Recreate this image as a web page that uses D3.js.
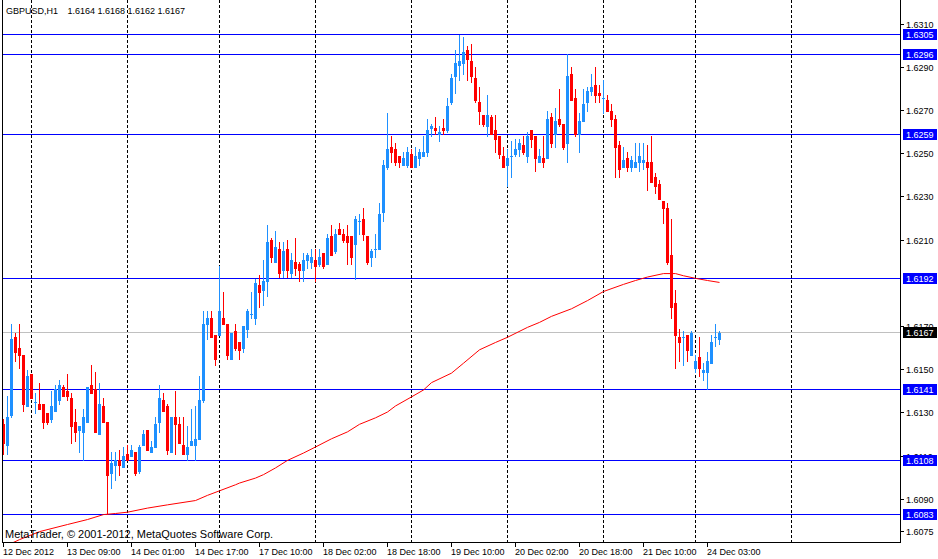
<!DOCTYPE html>
<html>
<head>
<meta charset="utf-8">
<script src="https://cdn.jsdelivr.net/npm/d3@7/dist/d3.min.js"></script>
<style>
  html, body { margin: 0; padding: 0; background: #fff; }
  svg { display: block; }
  text { font-family: "Liberation Sans", Arial, sans-serif; fill: #000; }
</style>
</head>
<body>
<svg id="chart" width="938" height="559"></svg>
<script>
// GBPUSD H1, bars from 12 Dec 17:00 to 24 Dec 06:00
const symbol = "GBPUSD,H1";
const copyright = "MetaTrader, \u00a9 2001-2012, MetaQuotes Software Corp.";

const opens = [
  1.6125,1.6115,1.6129,1.6165,1.6160,1.6157,1.6133,1.6148,1.6135,1.6134,
  1.6134,1.6130,1.6127,1.6131,1.6136,1.6142,1.6140,1.6137,1.6126,1.6122,
  1.6121,1.6126,1.6143,1.6141,1.6120,1.6133,1.6126,1.6102,1.6106,1.6108,
  1.6105,1.6111,1.6110,1.6112,1.6103,1.6115,1.6122,1.6112,1.6114,1.6126,
  1.6136,1.6133,1.6112,1.6128,1.6125,1.6115,1.6111,1.6115,1.6115,1.6118,
  1.6136,1.6171,1.6174,1.6166,1.6166,1.6174,1.6171,1.6155,1.6168,1.6163,
  1.6160,1.6169,1.6176,1.6174,1.6189,1.6187,1.6191,1.6210,1.6200,1.6206,
  1.6196,1.6206,1.6195,1.6200,1.6199,1.6196,1.6201,1.6200,1.6201,1.6199,
  1.6204,1.6199,1.6212,1.6205,1.6215,1.6213,1.6212,1.6212,1.6208,1.6219,
  1.6220,1.6212,1.6202,1.6206,1.6206,1.6223,1.6244,1.6253,1.6252,1.6249,
  1.6245,1.6245,1.6250,1.6244,1.6248,1.6249,1.6251,1.6262,1.6262,1.6259,
  1.6262,1.6261,1.6274,1.6286,1.6291,1.6292,1.6298,1.6293,1.6285,1.6274,
  1.6268,1.6263,1.6267,1.6261,1.6258,1.6249,1.6245,1.6249,1.6250,1.6252,
  1.6254,1.6249,1.6261,1.6258,1.6246,1.6248,1.6248,1.6267,1.6259,1.6266,
  1.6264,1.6255,1.6287,1.6276,1.6259,1.6265,1.6274,1.6279,1.6282,1.6278,
  1.6276,1.6275,1.6270,1.6266,1.6254,1.6244,1.6248,1.6244,1.6244,1.6246,
  1.6246,1.6246,1.6246,1.6239,1.6236,1.6228,1.6225,1.6203,1.6181,1.6165,
  1.6165,1.6166,1.6157,1.6151,1.6156,1.6149,1.6149,1.6153,1.6165,1.6164
];
const highs = [
  1.6127,1.6138,1.6171,1.6167,1.6171,1.6157,1.6150,1.6148,1.6139,1.6144,
  1.6134,1.6130,1.6140,1.6143,1.6145,1.6143,1.6148,1.6139,1.6132,1.6124,
  1.6132,1.6142,1.6152,1.6149,1.6144,1.6137,1.6126,1.6112,1.6112,1.6113,
  1.6114,1.6115,1.6115,1.6112,1.6115,1.6122,1.6122,1.6117,1.6128,1.6143,
  1.6139,1.6134,1.6128,1.6140,1.6128,1.6128,1.6124,1.6132,1.6133,1.6147,
  1.6177,1.6177,1.6177,1.6166,1.6198,1.6186,1.6171,1.6167,1.6171,1.6163,
  1.6170,1.6178,1.6186,1.6192,1.6194,1.6201,1.6217,1.6211,1.6214,1.6209,
  1.6209,1.6210,1.6204,1.6211,1.6200,1.6204,1.6204,1.6206,1.6206,1.6206,
  1.6204,1.6213,1.6217,1.6215,1.6218,1.6215,1.6217,1.6212,1.6221,1.6222,
  1.6225,1.6212,1.6206,1.6213,1.6227,1.6247,1.6269,1.6258,1.6255,1.6249,
  1.6251,1.6253,1.6252,1.6253,1.6252,1.6258,1.6266,1.6264,1.6267,1.6263,
  1.6266,1.6276,1.6287,1.6298,1.6305,1.6304,1.6300,1.6301,1.6290,1.6281,
  1.6268,1.6277,1.6268,1.6268,1.6258,1.6253,1.6252,1.6256,1.6257,1.6257,
  1.6258,1.6260,1.6261,1.6258,1.6252,1.6258,1.6270,1.6269,1.6271,1.6280,
  1.6264,1.6296,1.6290,1.6280,1.6269,1.6280,1.6281,1.6287,1.6290,1.6282,
  1.6284,1.6277,1.6273,1.6268,1.6256,1.6253,1.6251,1.6249,1.6255,1.6255,
  1.6255,1.6254,1.6258,1.6241,1.6238,1.6228,1.6227,1.6220,1.6187,1.6169,
  1.6168,1.6166,1.6168,1.6157,1.6165,1.6153,1.6158,1.6166,1.6171,1.6168
];
const lows = [
  1.6111,1.6111,1.6128,1.6154,1.6151,1.6131,1.6133,1.6137,1.6130,1.6132,
  1.6123,1.6125,1.6126,1.6131,1.6134,1.6138,1.6136,1.6116,1.6117,1.6112,
  1.6108,1.6126,1.6139,1.6121,1.6120,1.6126,1.6083,1.6095,1.6099,1.6101,
  1.6105,1.6108,1.6110,1.6101,1.6102,1.6115,1.6113,1.6112,1.6114,1.6121,
  1.6131,1.6111,1.6112,1.6111,1.6116,1.6111,1.6108,1.6115,1.6108,1.6118,
  1.6135,1.6164,1.6165,1.6152,1.6166,1.6171,1.6155,1.6155,1.6159,1.6155,
  1.6158,1.6165,1.6174,1.6171,1.6179,1.6180,1.6184,1.6200,1.6200,1.6193,
  1.6193,1.6193,1.6193,1.6194,1.6191,1.6191,1.6197,1.6197,1.6191,1.6198,
  1.6197,1.6199,1.6203,1.6204,1.6213,1.6209,1.6199,1.6199,1.6192,1.6213,
  1.6210,1.6199,1.6198,1.6202,1.6206,1.6219,1.6243,1.6246,1.6245,1.6244,
  1.6245,1.6244,1.6244,1.6244,1.6245,1.6249,1.6249,1.6258,1.6259,1.6256,
  1.6259,1.6260,1.6273,1.6278,1.6284,1.6287,1.6284,1.6283,1.6274,1.6264,
  1.6263,1.6258,1.6259,1.6251,1.6248,1.6244,1.6235,1.6239,1.6249,1.6249,
  1.6250,1.6246,1.6253,1.6242,1.6246,1.6244,1.6248,1.6253,1.6253,1.6263,
  1.6252,1.6246,1.6275,1.6258,1.6251,1.6265,1.6270,1.6277,1.6274,1.6274,
  1.6269,1.6270,1.6263,1.6239,1.6239,1.6244,1.6242,1.6242,1.6244,1.6242,
  1.6243,1.6233,1.6237,1.6232,1.6229,1.6218,1.6199,1.6174,1.6151,1.6154,
  1.6152,1.6154,1.6157,1.6149,1.6147,1.6145,1.6141,1.6153,1.6161,1.6162
];
const closes = [
  1.6116,1.6128,1.6164,1.6158,1.6157,1.6134,1.6147,1.6137,1.6135,1.6132,
  1.6126,1.6126,1.6133,1.6141,1.6143,1.6138,1.6138,1.6124,1.6121,1.6124,
  1.6128,1.6142,1.6139,1.6121,1.6134,1.6126,1.6101,1.6107,1.6108,1.6106,
  1.6110,1.6108,1.6113,1.6102,1.6114,1.6120,1.6113,1.6114,1.6125,1.6137,
  1.6131,1.6113,1.6128,1.6125,1.6116,1.6111,1.6114,1.6117,1.6118,1.6136,
  1.6171,1.6174,1.6165,1.6155,1.6177,1.6171,1.6157,1.6167,1.6160,1.6159,
  1.6170,1.6177,1.6176,1.6190,1.6186,1.6191,1.6209,1.6202,1.6207,1.6195,
  1.6205,1.6196,1.6201,1.6197,1.6196,1.6201,1.6203,1.6202,1.6198,1.6202,
  1.6198,1.6211,1.6203,1.6213,1.6213,1.6210,1.6209,1.6202,1.6220,1.6219,
  1.6213,1.6200,1.6205,1.6206,1.6222,1.6245,1.6252,1.6251,1.6246,1.6246,
  1.6248,1.6251,1.6244,1.6249,1.6251,1.6251,1.6261,1.6263,1.6261,1.6260,
  1.6261,1.6272,1.6285,1.6292,1.6293,1.6297,1.6294,1.6286,1.6275,1.6270,
  1.6264,1.6268,1.6259,1.6257,1.6250,1.6244,1.6248,1.6249,1.6252,1.6255,
  1.6251,1.6258,1.6257,1.6248,1.6249,1.6246,1.6266,1.6255,1.6265,1.6264,
  1.6253,1.6286,1.6275,1.6259,1.6265,1.6273,1.6279,1.6281,1.6277,1.6277,
  1.6276,1.6270,1.6266,1.6253,1.6243,1.6247,1.6244,1.6247,1.6246,1.6249,
  1.6247,1.6244,1.6237,1.6235,1.6229,1.6225,1.6200,1.6179,1.6166,1.6163,
  1.6165,1.6159,1.6167,1.6154,1.6151,1.6150,1.6154,1.6163,1.6165,1.6167
];

// moving average read at these bars
const maBars = [2,4,9,16,21,25,28,31,36,41,48,51,54,58,59,63,65,68,71,75,78,82,86,89,93,96,98,
  102,105,107,112,115,119,123,126,131,134,137,142,146,150,155,158,161,165,168,170,173,176,179];
const maValues = [1.60696,1.60713,1.60750,1.60783,1.60806,1.60829,1.60834,1.60840,1.60859,1.60874,
  1.60894,1.60918,1.60939,1.60967,1.60975,1.60998,1.61014,1.61045,1.61080,1.61114,1.61142,1.61180,
  1.61212,1.61247,1.61277,1.61304,1.61332,1.61374,1.61406,1.61440,1.61484,1.61530,1.61592,1.61626,
  1.61650,1.61696,1.61719,1.61747,1.61782,1.61820,1.61862,1.61895,1.61913,1.61929,1.61945,1.61945,
  1.61935,1.61923,1.61913,1.61904];

const levels = [1.6305, 1.6296, 1.6259, 1.6192, 1.6141, 1.6108, 1.6083];
const lastPrice = 1.6167;

const priceTicks = [1.6310, 1.6290, 1.6270, 1.6250, 1.6230, 1.6210, 1.6170,
  1.6150, 1.6130, 1.6110, 1.6090, 1.6075];

const timeTickBars = [0, 16, 32, 48, 64, 80, 96, 112, 128, 144, 160, 176];
const timeLabels = ["12 Dec 2012", "13 Dec 09:00", "14 Dec 01:00", "14 Dec 17:00",
  "17 Dec 10:00", "18 Dec 02:00", "18 Dec 18:00", "19 Dec 10:00", "20 Dec 02:00",
  "20 Dec 18:00", "21 Dec 10:00", "24 Dec 03:00"];

// first bar of each day (midnight) -> dotted separators
const dayStartBars = [7, 31, 54, 78, 102, 126, 150, 173, 197];

const bars = opens.map((o, i) => ({ i, o, h: highs[i], l: lows[i], c: closes[i] }));
const last = bars[bars.length - 1];

const svg = d3.select("#chart");
const plotLeft = 2, plotRight = 900, plotBottom = 542;

// 4 px per bar, 224 bars across
const x = d3.scaleLinear().domain([0, 224]).range([3.5, 899.5]);
const y = d3.scaleLinear().domain([1.60702, 1.63212]).range([plotBottom, 0]);
const row = v => Math.floor(y(v)) + 0.5;

svg.append("defs").append("clipPath").attr("id", "plot")
  .append("rect").attr("x", plotLeft + 1).attr("y", 0)
  .attr("width", plotRight - plotLeft - 1).attr("height", plotBottom);

const g = svg.append("g").attr("shape-rendering", "crispEdges");

// day separators
g.selectAll(".vgrid").data(dayStartBars).join("line")
  .attr("x1", d => x(d)).attr("x2", d => x(d))
  .attr("y1", 0).attr("y2", plotBottom)
  .attr("stroke", "#000").attr("stroke-dasharray", "3,2");

// horizontal levels
g.selectAll(".level").data(levels).join("line")
  .attr("x1", plotLeft).attr("x2", plotRight)
  .attr("y1", row).attr("y2", row)
  .attr("stroke", "#0000ff");

g.append("line")
  .attr("x1", plotLeft).attr("x2", plotRight)
  .attr("y1", row(lastPrice)).attr("y2", row(lastPrice))
  .attr("stroke", "#c0c0c0");

// moving average
svg.append("path")
  .datum(maBars.map((b, k) => [b, maValues[k]]))
  .attr("clip-path", "url(#plot)")
  .attr("fill", "none").attr("stroke", "#ff0000").attr("stroke-width", 1)
  .attr("d", d3.line().x(d => x(d[0])).y(d => y(d[1])));

// candles
const color = d => d.c >= d.o ? "#1e90ff" : "#ff0000";
const candle = g.selectAll(".candle").data(bars).join("g");
candle.append("line")
  .attr("x1", d => x(d.i)).attr("x2", d => x(d.i))
  .attr("y1", d => Math.round(y(d.h))).attr("y2", d => Math.round(y(d.l)) + 1)
  .attr("stroke", color);
candle.append("rect")
  .attr("x", d => x(d.i) - 1.5).attr("width", 3)
  .attr("y", d => Math.round(y(Math.max(d.o, d.c))))
  .attr("height", d => Math.max(1, Math.round(y(Math.min(d.o, d.c))) - Math.round(y(Math.max(d.o, d.c))) + 1))
  .attr("fill", color);

// frame
g.append("line").attr("x1", plotLeft + 0.5).attr("x2", plotLeft + 0.5).attr("y1", 0).attr("y2", plotBottom).attr("stroke", "#000");
g.append("line").attr("x1", plotRight + 0.5).attr("x2", plotRight + 0.5).attr("y1", 0).attr("y2", plotBottom + 1).attr("stroke", "#000");
g.append("line").attr("x1", plotLeft).attr("x2", plotRight + 1).attr("y1", plotBottom + 0.5).attr("y2", plotBottom + 0.5).attr("stroke", "#000");

// price axis
g.selectAll(".ptick").data(priceTicks).join("line")
  .attr("x1", plotRight + 1).attr("x2", plotRight + 4)
  .attr("y1", row).attr("y2", row).attr("stroke", "#000");
svg.selectAll(".plabel").data(priceTicks).join("text")
  .attr("x", 906).attr("y", d => row(d) + 3.5)
  .attr("font-size", 9)
  .text(d => d.toFixed(4));

// level tags
const tags = levels.map(v => ({ v, bg: "#0000ff" })).concat([{ v: lastPrice, bg: "#000" }]);
const tag = svg.selectAll(".tag").data(tags).join("g");
tag.append("rect")
  .attr("x", 903).attr("width", 34)
  .attr("y", d => Math.floor(y(d.v)) - 5).attr("height", 11)
  .attr("fill", d => d.bg).attr("shape-rendering", "crispEdges");
tag.append("text")
  .attr("x", 906).attr("y", d => Math.floor(y(d.v)) + 4)
  .attr("font-size", 9).style("fill", "#fff")
  .text(d => d.v.toFixed(4));

// time axis
g.selectAll(".ttick").data(timeTickBars).join("line")
  .attr("x1", d => x(d)).attr("x2", d => x(d))
  .attr("y1", plotBottom + 1).attr("y2", plotBottom + 5).attr("stroke", "#000");
svg.selectAll(".tlabel").data(timeTickBars).join("text")
  .attr("x", d => x(d) - 0.5).attr("y", 555)
  .attr("font-size", 9)
  .text((d, k) => timeLabels[k]);

// header: symbol and the last bar's O H L C
const header = svg.append("text").attr("x", 6).attr("y", 13.5).attr("font-size", 9);
header.append("tspan").text(symbol);
header.append("tspan").attr("x", 67.5)
  .text([last.o, last.h, last.l, last.c].map(v => v.toFixed(4)).join(" "));

svg.append("text").attr("x", 5).attr("y", 538)
  .attr("font-size", 11)
  .text(copyright);
</script>
</body>
</html>
